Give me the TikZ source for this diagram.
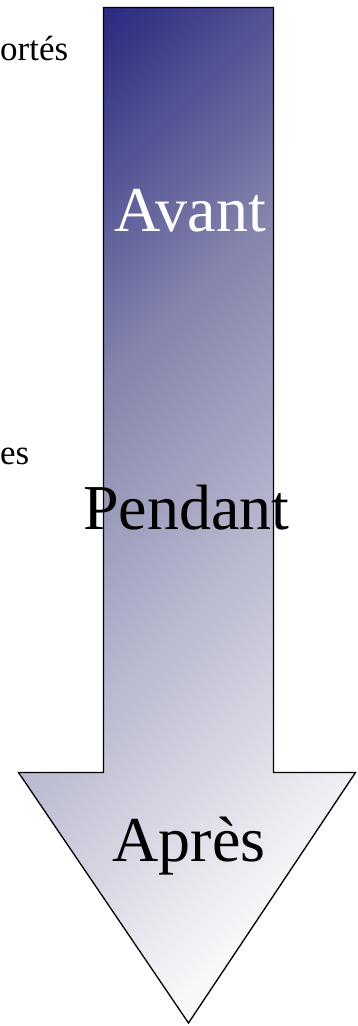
\documentclass[tikz,border=0pt]{standalone}
\usepackage{fontspec}
\setmainfont{Liberation Serif}
\usepackage{xcolor}
\usepackage{tikz}

\definecolor{arrowdark}{RGB}{40,40,128}
\definecolor{arrowmid}{RGB}{132,132,172}
\definecolor{arrowlight}{RGB}{248,248,250}
\pgfdeclarehorizontalshading{arrowshade}{840bp}{color(0bp)=(arrowdark); color(32bp)=(arrowdark); color(298bp)=(arrowmid); color(789bp)=(arrowlight); color(840bp)=(arrowlight)}

\begin{document}
\begin{tikzpicture}[
        x=1pt, y=1pt,
        stage/.style={inner sep=0pt, anchor=base, font=\fontsize{64}{70}\selectfont},
        side/.style={inner sep=0pt, anchor=base west, font=\fontsize{35}{40}\selectfont},
    ]
        \useasboundingbox (0,0) rectangle (357,1026);

        % Arrow outline
        \coordinate (shaftnw) at (103.5,1018.5);
        \coordinate (shaftne) at (273.5,1018.5);
        \coordinate (shaftse) at (273.5,253.5);
        \coordinate (shaftsw) at (103.5,253.5);
        \coordinate (heade) at (355.5,253.5);
        \coordinate (headw) at (18.5,253.5);
        \coordinate (tip) at (188.5,3);

        % Diagonal fill
        \begin{scope}
            \clip (shaftnw) -- (shaftne) -- (shaftse) -- (heade) -- (tip) -- (headw) -- (shaftsw) -- cycle;
            \node[inner sep=0pt, rotate=-45] (fill) at (187.4,555.1) {\pgfuseshading{arrowshade}};
        \end{scope}
        \draw[line width=1.3pt, line join=miter] (shaftnw) -- (shaftne) -- (shaftse) -- (heade) -- (tip) -- (headw) -- (shaftsw) -- cycle;

        % Stages
        \node[stage, text=white] (avant) at (190,794) {Avant};
        \node[stage] (pendant) at (186.5,496) {Pendant};
        \node[stage] (apres) at (189,164) {Après};

        % Side texts
        \node[side] (importes) at (0,965) {ortés};
        \node[side] (autres) at (0,561) {es};

    \end{tikzpicture}
\end{document}
